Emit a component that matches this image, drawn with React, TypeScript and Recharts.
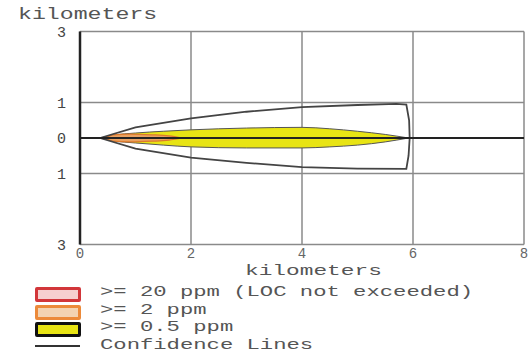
import React from "react";
import {
  ComposedChart,
  Area,
  Line,
  XAxis,
  YAxis,
  CartesianGrid,
  ReferenceLine,
} from "recharts";

// threat zone footprint, kilometers downwind (x) / crosswind (y)
const xTicks = [0, 2, 4, 6, 8];
const yTicks = [-3, -1, 0, 1, 3];

const yellowX = [0.36, 0.6, 1.0, 1.5, 2.0, 3.0, 4.0, 4.5, 5.0, 5.5, 5.92];
const yellowLow = [0, -0.08, -0.14, -0.2, -0.25, -0.28, -0.28, -0.25, -0.2, -0.11, 0];
const yellowHigh = [0, 0.08, 0.14, 0.19, 0.23, 0.28, 0.3, 0.26, 0.19, 0.1, 0];

const orangeX = [0.45, 0.6, 0.9, 1.3, 1.6, 1.85];
const orangeLow = [0, -0.09, -0.11, -0.09, -0.06, 0];
const orangeHigh = [0, 0.09, 0.11, 0.09, 0.06, 0];

// closed outline, drawn in this order
const confX = [0.36, 1, 2, 3, 4, 5, 5.7, 5.88, 5.93, 5.94, 5.92, 5.88, 5, 4, 3, 2, 1, 0.36];
const confY = [0, 0.3, 0.55, 0.74, 0.87, 0.93, 0.96, 0.94, 0.5, 0, -0.5, -0.87, -0.86, -0.82, -0.7, -0.55, -0.3, 0];

const legendItems = [
  { label: ">= 20 ppm (LOC not exceeded)", border: "#d2363a", fill: "#f6cfcf" },
  { label: ">= 2 ppm", border: "#ec8a3a", fill: "#f3d3b2" },
  { label: ">= 0.5 ppm", border: "#111111", fill: "#e8e414" },
  { label: "Confidence Lines", border: "", fill: "" },
];

const yellowData = yellowX.map((x, i) => ({ x, y: [yellowLow[i], yellowHigh[i]] }));
const orangeData = orangeX.map((x, i) => ({ x, y: [orangeLow[i], orangeHigh[i]] }));
const confData = confX.map((x, i) => ({ x, y: confY[i] }));

const MONO = '"Liberation Mono", "DejaVu Sans Mono", monospace';

function Stretched({ text, left, top, size = 16, sx = 1.45, color = "#555" }: {
  text: string; left: number; top: number; size?: number; sx?: number; color?: string;
}) {
  return (
    <div
      style={{
        position: "absolute",
        left,
        top,
        fontFamily: MONO,
        fontSize: size,
        lineHeight: `${size - 2}px`,
        color,
        whiteSpace: "nowrap",
        transform: `scaleX(${sx})`,
        transformOrigin: "left top",
      }}
    >
      {text}
    </div>
  );
}

export default function App() {
  return (
    <div style={{ position: "absolute", left: 0, top: 0, width: 531, height: 354, background: "#fff", overflow: "hidden" }}>
      <ComposedChart
        width={531}
        height={354}
        margin={{ top: 31.5, right: 7, bottom: 79.5, left: 0 }}
      >
        <CartesianGrid stroke="#8a8a8a" strokeWidth={1.5} horizontalValues={yTicks} verticalValues={xTicks} />
        <XAxis
          type="number"
          dataKey="x"
          domain={[0, 8]}
          ticks={xTicks}
          height={30}
          axisLine={false}
          tickLine={false}
          tickMargin={0}
          tick={{ fill: "#666", fontSize: 14, fontFamily: MONO, dy: -2 }}
          allowDataOverflow
        />
        <YAxis
          type="number"
          domain={[-3, 3]}
          ticks={yTicks}
          width={80}
          axisLine={false}
          tickLine={false}
          tickMargin={8}
          tickFormatter={(v: number) => String(Math.abs(v))}
          tick={{ fill: "#444", fontSize: 15, fontFamily: MONO }}
          allowDataOverflow
        />
        <Line
          data={confData}
          dataKey="y"
          type="linear"
          stroke="#444"
          strokeWidth={1.8}
          dot={false}
          isAnimationActive={false}
        />
        <Area
          data={yellowData}
          dataKey="y"
          type="monotone"
          fill="#e8e414"
          fillOpacity={1}
          stroke="#555"
          strokeWidth={1}
          isAnimationActive={false}
        />
        <Area
          data={orangeData}
          dataKey="y"
          type="monotone"
          fill="#e9a262"
          fillOpacity={1}
          stroke="#dd7a2c"
          strokeWidth={1.2}
          isAnimationActive={false}
        />
        <ReferenceLine y={0} stroke="#222" strokeWidth={2} />
        <ReferenceLine x={0} stroke="#222" strokeWidth={2.5} />
      </ComposedChart>

      <Stretched text="kilometers" left={18} top={8} />
      <Stretched text="kilometers" left={245} top={265} size={15} sx={1.52} />

      {legendItems.map((item, i) => {
        const top = 286 + i * 17.7;
        return (
          <React.Fragment key={item.label}>
            {item.border ? (
              <div
                style={{
                  position: "absolute",
                  left: 35,
                  top: top + 1,
                  width: 40,
                  height: 9,
                  border: `3px solid ${item.border}`,
                  borderRadius: 2,
                  background: item.fill,
                }}
              />
            ) : (
              <div style={{ position: "absolute", left: 35, top: top + 6, width: 45, height: 2, background: "#333" }} />
            )}
            <Stretched text={item.label} left={100} top={top} size={15} sx={1.48} />
          </React.Fragment>
        );
      })}
    </div>
  );
}
